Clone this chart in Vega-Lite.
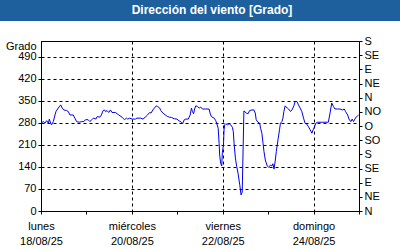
{
  "$schema": "https://vega.github.io/schema/vega-lite/v6.json",
  "background": "white",
  "padding": 0,
  "spacing": 20,
  "bounds": "flush",
  "center": true,
  "title": {"text": "Dirección del viento [Grado]", "color": "white", "font": "Liberation Sans", "fontSize": 12, "fontWeight": "bold", "anchor": "middle", "offset": -17, "dx": 12},
  "config": {
    "view": {"stroke": "black", "strokeWidth": 1},
    "axis": {"labelFont": "Liberation Sans", "labelFontSize": 11, "labelColor": "black", "titleFont": "Liberation Sans", "titleFontSize": 11, "titleFontWeight": "normal", "titleColor": "black", "domainColor": "black", "tickColor": "black", "gridColor": "black", "gridDash": [3, 3], "gridOpacity": 1}
  },
  "vconcat": [
    {
      "width": 400,
      "height": 21,
      "view": {"fill": "#1e5f9e", "stroke": null},
      "data": {"values": [{}]},
      "mark": {"type": "point", "opacity": 0},
      "encoding": {}
    },
    {
      "width": 318,
      "height": 170,
      "data": {
        "values": [
          {"fecha": "2025-08-18 00:00", "grado": 279},
          {"fecha": "2025-08-18 01:12", "grado": 284},
          {"fecha": "2025-08-18 02:06", "grado": 279},
          {"fecha": "2025-08-18 03:00", "grado": 287},
          {"fecha": "2025-08-18 03:54", "grado": 279},
          {"fecha": "2025-08-18 04:24", "grado": 292},
          {"fecha": "2025-08-18 05:06", "grado": 279},
          {"fecha": "2025-08-18 05:36", "grado": 274},
          {"fecha": "2025-08-18 06:30", "grado": 284},
          {"fecha": "2025-08-18 07:24", "grado": 305},
          {"fecha": "2025-08-18 07:54", "grado": 316},
          {"fecha": "2025-08-18 09:06", "grado": 327},
          {"fecha": "2025-08-18 10:24", "grado": 337},
          {"fecha": "2025-08-18 11:12", "grado": 327},
          {"fecha": "2025-08-18 12:06", "grado": 321},
          {"fecha": "2025-08-18 13:30", "grado": 319},
          {"fecha": "2025-08-18 14:24", "grado": 316},
          {"fecha": "2025-08-18 15:18", "grado": 305},
          {"fecha": "2025-08-18 17:00", "grado": 305},
          {"fecha": "2025-08-18 17:54", "grado": 295},
          {"fecha": "2025-08-18 18:48", "grado": 284},
          {"fecha": "2025-08-18 20:12", "grado": 282},
          {"fecha": "2025-08-18 21:24", "grado": 284},
          {"fecha": "2025-08-18 22:36", "grado": 284},
          {"fecha": "2025-08-18 23:30", "grado": 290},
          {"fecha": "2025-08-19 00:54", "grado": 290},
          {"fecha": "2025-08-19 01:48", "grado": 284},
          {"fecha": "2025-08-19 03:12", "grado": 292},
          {"fecha": "2025-08-19 03:54", "grado": 295},
          {"fecha": "2025-08-19 05:00", "grado": 292},
          {"fecha": "2025-08-19 05:42", "grado": 300},
          {"fecha": "2025-08-19 07:06", "grado": 298},
          {"fecha": "2025-08-19 07:54", "grado": 305},
          {"fecha": "2025-08-19 08:48", "grado": 319},
          {"fecha": "2025-08-19 09:30", "grado": 321},
          {"fecha": "2025-08-19 10:06", "grado": 316},
          {"fecha": "2025-08-19 10:54", "grado": 319},
          {"fecha": "2025-08-19 11:48", "grado": 313},
          {"fecha": "2025-08-19 12:42", "grado": 321},
          {"fecha": "2025-08-19 13:30", "grado": 313},
          {"fecha": "2025-08-19 15:18", "grado": 313},
          {"fecha": "2025-08-19 16:12", "grado": 309},
          {"fecha": "2025-08-19 17:06", "grado": 305},
          {"fecha": "2025-08-19 18:48", "grado": 298},
          {"fecha": "2025-08-19 20:06", "grado": 290},
          {"fecha": "2025-08-19 21:06", "grado": 295},
          {"fecha": "2025-08-19 21:48", "grado": 292},
          {"fecha": "2025-08-19 22:54", "grado": 295},
          {"fecha": "2025-08-20 00:06", "grado": 292},
          {"fecha": "2025-08-20 01:54", "grado": 292},
          {"fecha": "2025-08-20 02:42", "grado": 295},
          {"fecha": "2025-08-20 04:30", "grado": 295},
          {"fecha": "2025-08-20 05:54", "grado": 292},
          {"fecha": "2025-08-20 07:06", "grado": 298},
          {"fecha": "2025-08-20 08:18", "grado": 305},
          {"fecha": "2025-08-20 09:24", "grado": 313},
          {"fecha": "2025-08-20 10:06", "grado": 311},
          {"fecha": "2025-08-20 11:06", "grado": 321},
          {"fecha": "2025-08-20 11:54", "grado": 327},
          {"fecha": "2025-08-20 12:54", "grado": 334},
          {"fecha": "2025-08-20 13:36", "grado": 332},
          {"fecha": "2025-08-20 14:42", "grado": 327},
          {"fecha": "2025-08-20 15:18", "grado": 319},
          {"fecha": "2025-08-20 16:24", "grado": 311},
          {"fecha": "2025-08-20 17:42", "grado": 305},
          {"fecha": "2025-08-20 18:54", "grado": 300},
          {"fecha": "2025-08-20 19:54", "grado": 298},
          {"fecha": "2025-08-20 21:00", "grado": 297},
          {"fecha": "2025-08-20 22:24", "grado": 293},
          {"fecha": "2025-08-20 23:48", "grado": 292},
          {"fecha": "2025-08-21 01:00", "grado": 286},
          {"fecha": "2025-08-21 02:12", "grado": 282},
          {"fecha": "2025-08-21 02:48", "grado": 277},
          {"fecha": "2025-08-21 03:42", "grado": 290},
          {"fecha": "2025-08-21 04:30", "grado": 292},
          {"fecha": "2025-08-21 05:48", "grado": 292},
          {"fecha": "2025-08-21 06:48", "grado": 305},
          {"fecha": "2025-08-21 07:30", "grado": 327},
          {"fecha": "2025-08-21 08:00", "grado": 316},
          {"fecha": "2025-08-21 08:36", "grado": 309},
          {"fecha": "2025-08-21 09:18", "grado": 327},
          {"fecha": "2025-08-21 09:48", "grado": 334},
          {"fecha": "2025-08-21 10:42", "grado": 332},
          {"fecha": "2025-08-21 11:36", "grado": 327},
          {"fecha": "2025-08-21 12:24", "grado": 330},
          {"fecha": "2025-08-21 13:18", "grado": 324},
          {"fecha": "2025-08-21 15:06", "grado": 324},
          {"fecha": "2025-08-21 16:48", "grado": 324},
          {"fecha": "2025-08-21 17:18", "grado": 311},
          {"fecha": "2025-08-21 18:00", "grado": 300},
          {"fecha": "2025-08-21 19:30", "grado": 295},
          {"fecha": "2025-08-21 20:18", "grado": 287},
          {"fecha": "2025-08-21 20:48", "grado": 279},
          {"fecha": "2025-08-21 21:36", "grado": 263},
          {"fecha": "2025-08-21 22:06", "grado": 215},
          {"fecha": "2025-08-21 22:24", "grado": 178},
          {"fecha": "2025-08-21 22:54", "grado": 152},
          {"fecha": "2025-08-21 23:30", "grado": 143},
          {"fecha": "2025-08-21 23:48", "grado": 185},
          {"fecha": "2025-08-22 00:24", "grado": 210},
          {"fecha": "2025-08-22 00:42", "grado": 258},
          {"fecha": "2025-08-22 01:06", "grado": 274},
          {"fecha": "2025-08-22 01:36", "grado": 277},
          {"fecha": "2025-08-22 02:30", "grado": 274},
          {"fecha": "2025-08-22 03:24", "grado": 277},
          {"fecha": "2025-08-22 04:12", "grado": 274},
          {"fecha": "2025-08-22 05:06", "grado": 266},
          {"fecha": "2025-08-22 05:36", "grado": 252},
          {"fecha": "2025-08-22 06:00", "grado": 215},
          {"fecha": "2025-08-22 06:42", "grado": 168},
          {"fecha": "2025-08-22 07:24", "grado": 141},
          {"fecha": "2025-08-22 08:06", "grado": 120},
          {"fecha": "2025-08-22 09:00", "grado": 83},
          {"fecha": "2025-08-22 09:42", "grado": 51},
          {"fecha": "2025-08-22 10:18", "grado": 60},
          {"fecha": "2025-08-22 11:12", "grado": 318},
          {"fecha": "2025-08-22 12:30", "grado": 311},
          {"fecha": "2025-08-22 13:24", "grado": 309},
          {"fecha": "2025-08-22 14:12", "grado": 319},
          {"fecha": "2025-08-22 15:30", "grado": 321},
          {"fecha": "2025-08-22 16:30", "grado": 321},
          {"fecha": "2025-08-22 17:12", "grado": 311},
          {"fecha": "2025-08-22 17:42", "grado": 290},
          {"fecha": "2025-08-22 18:36", "grado": 282},
          {"fecha": "2025-08-22 19:30", "grado": 279},
          {"fecha": "2025-08-22 20:00", "grado": 263},
          {"fecha": "2025-08-22 20:42", "grado": 247},
          {"fecha": "2025-08-22 21:18", "grado": 215},
          {"fecha": "2025-08-22 21:48", "grado": 189},
          {"fecha": "2025-08-22 22:30", "grado": 162},
          {"fecha": "2025-08-22 23:30", "grado": 143},
          {"fecha": "2025-08-23 00:12", "grado": 139},
          {"fecha": "2025-08-23 01:18", "grado": 146},
          {"fecha": "2025-08-23 02:00", "grado": 143},
          {"fecha": "2025-08-23 02:30", "grado": 150},
          {"fecha": "2025-08-23 03:06", "grado": 133},
          {"fecha": "2025-08-23 03:42", "grado": 157},
          {"fecha": "2025-08-23 04:18", "grado": 189},
          {"fecha": "2025-08-23 05:12", "grado": 226},
          {"fecha": "2025-08-23 06:00", "grado": 258},
          {"fecha": "2025-08-23 06:30", "grado": 279},
          {"fecha": "2025-08-23 07:18", "grado": 284},
          {"fecha": "2025-08-23 07:48", "grado": 295},
          {"fecha": "2025-08-23 08:18", "grado": 316},
          {"fecha": "2025-08-23 09:00", "grado": 334},
          {"fecha": "2025-08-23 10:06", "grado": 327},
          {"fecha": "2025-08-23 10:48", "grado": 324},
          {"fecha": "2025-08-23 11:48", "grado": 316},
          {"fecha": "2025-08-23 12:36", "grado": 321},
          {"fecha": "2025-08-23 13:36", "grado": 334},
          {"fecha": "2025-08-23 14:18", "grado": 348},
          {"fecha": "2025-08-23 15:12", "grado": 348},
          {"fecha": "2025-08-23 16:00", "grado": 337},
          {"fecha": "2025-08-23 16:54", "grado": 327},
          {"fecha": "2025-08-23 17:48", "grado": 316},
          {"fecha": "2025-08-23 18:42", "grado": 295},
          {"fecha": "2025-08-23 19:30", "grado": 279},
          {"fecha": "2025-08-23 20:24", "grado": 276},
          {"fecha": "2025-08-23 21:18", "grado": 268},
          {"fecha": "2025-08-23 22:12", "grado": 258},
          {"fecha": "2025-08-23 23:06", "grado": 247},
          {"fecha": "2025-08-23 23:54", "grado": 260},
          {"fecha": "2025-08-24 00:24", "grado": 266},
          {"fecha": "2025-08-24 01:12", "grado": 279},
          {"fecha": "2025-08-24 02:12", "grado": 282},
          {"fecha": "2025-08-24 04:00", "grado": 282},
          {"fecha": "2025-08-24 06:00", "grado": 282},
          {"fecha": "2025-08-24 07:48", "grado": 282},
          {"fecha": "2025-08-24 08:42", "grado": 311},
          {"fecha": "2025-08-24 09:36", "grado": 343},
          {"fecha": "2025-08-24 10:30", "grado": 332},
          {"fecha": "2025-08-24 11:18", "grado": 324},
          {"fecha": "2025-08-24 12:48", "grado": 324},
          {"fecha": "2025-08-24 14:00", "grado": 324},
          {"fecha": "2025-08-24 15:12", "grado": 321},
          {"fecha": "2025-08-24 16:12", "grado": 324},
          {"fecha": "2025-08-24 16:54", "grado": 316},
          {"fecha": "2025-08-24 18:00", "grado": 305},
          {"fecha": "2025-08-24 18:42", "grado": 292},
          {"fecha": "2025-08-24 19:42", "grado": 284},
          {"fecha": "2025-08-24 20:24", "grado": 292},
          {"fecha": "2025-08-24 21:06", "grado": 284},
          {"fecha": "2025-08-24 21:48", "grado": 292},
          {"fecha": "2025-08-24 22:42", "grado": 300},
          {"fecha": "2025-08-24 23:12", "grado": 302},
          {"fecha": "2025-08-24 23:48", "grado": 305}
        ],
        "format": {"parse": {"fecha": "date:'%Y-%m-%d %H:%M'"}}
      },
      "layer": [
        {
          "mark": {"type": "line", "color": "#0000ee", "strokeWidth": 1},
          "encoding": {
            "x": {
              "field": "fecha", "type": "temporal",
              "scale": {"domain": [{"year": 2025, "month": 8, "date": 18}, {"year": 2025, "month": 8, "date": 25}], "nice": false},
              "axis": {
                "title": null,
                "tickCount": {"interval": "day", "step": 1},
                "tickSize": 3,
                "labelPadding": 15,
                "labelFlush": false,
                "labelOverlap": false,
                "labelLineHeight": 15,
                "labelBaseline": "alphabetic",
                "labelExpr": "date(datum.value) % 2 == 0 ? [['domingo','lunes','martes','miércoles','jueves','viernes','sábado'][day(datum.value)], timeFormat(datum.value, '%d/%m/%y')] : ''",
                "grid": true,
                "gridOpacity": {"condition": {"test": "date(datum.value) % 2 == 0", "value": 1}, "value": 0}
              }
            },
            "y": {
              "field": "grado", "type": "quantitative",
              "scale": {"domain": [0, 540], "nice": false},
              "axis": {
                "values": [0, 70, 140, 210, 280, 350, 420, 490],
                "grid": true,
                "tickSize": 3,
                "labelPadding": 2,
                "title": "Grado",
                "titleAngle": 0,
                "titleAlign": "right",
                "titleBaseline": "middle",
                "titleX": -5,
                "titleY": 5
              }
            }
          }
        },
        {
          "mark": {"type": "line", "opacity": 0},
          "encoding": {
            "x": {"field": "fecha", "type": "temporal"},
            "y": {
              "field": "grado", "type": "quantitative",
              "scale": {"domain": [0, 540], "nice": false},
              "axis": {
                "orient": "right",
                "values": [0, 45, 90, 135, 180, 225, 270, 315, 360, 405, 450, 495, 540],
                "grid": false,
                "tickSize": 3,
                "labelPadding": 2,
                "labelOverlap": false,
                "title": null,
                "labelExpr": "['N','NE','E','SE','S','SO','O','NO'][(datum.value / 45) % 8]"
              }
            }
          }
        }
      ],
      "resolve": {"scale": {"y": "independent"}}
    }
  ]
}
